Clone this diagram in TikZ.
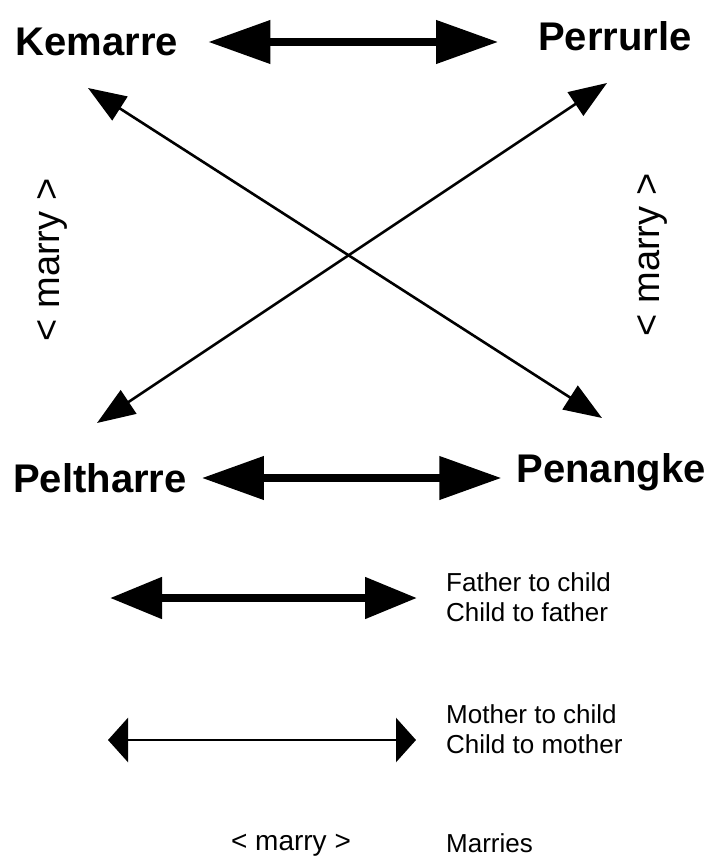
\documentclass[tikz,border=0pt]{standalone}
\usepackage{fontspec}
\setmainfont{Liberation Sans}
\usetikzlibrary{arrows.meta}
\begin{document}
\begin{tikzpicture}[x=1pt,y=-1pt,
  namebox/.style={font=\fontsize{40}{44}\selectfont\bfseries, inner sep=0pt},
  marrybox/.style={font=\fontsize{38}{40}\selectfont, inner sep=0pt, rotate=90},
  legtext/.style={font=\fontsize{26}{30}\selectfont, inner sep=0pt, anchor=west, align=left},
  bigarrow/.style={line width=7.5pt, {Triangle[length=62pt,width=42pt]}-{Triangle[length=62pt,width=42pt]}},
  legbig/.style={line width=8pt, {Triangle[length=52pt,width=40pt]}-{Triangle[length=52pt,width=40pt]}},
  legthin/.style={line width=2.8pt, {Triangle[length=20pt,width=44pt]}-{Triangle[length=20pt,width=44pt]}},
  diag/.style={line width=2.6pt, {Triangle[length=38pt,width=28pt]}-{Triangle[length=38pt,width=28pt]}}]
\useasboundingbox (0,0) rectangle (711,866);
\fill[white] (0,0) rectangle (711,866);

\node[namebox] (K) at (97,42) {Kemarre};
\node[namebox] (P) at (615,36) {Perrurle};
\node[namebox] (L) at (100,478) {Peltharre};
\node[namebox] (N) at (611,472) {Penangke};

\node[marrybox] (ML) at (52,260) {< marry >};
\node[marrybox] (MR) at (652,255) {< marry >};

% horizontal thick arrows
\draw[bigarrow] ([xshift=30pt]K.east |- 0,42) -- ([xshift=-40pt]P.west |- 0,42);
\draw[bigarrow] ([xshift=15pt]L.east) -- ([xshift=-15pt]N.west |- L.east);

% diagonals
\draw[diag] ([xshift=-9pt,yshift=-46pt]K.center) -- ([xshift=-9pt,yshift=54pt]N.center);
\draw[diag] ([xshift=-8pt,yshift=-47pt]P.center) -- ([xshift=-3pt,yshift=55pt]L.center);

% legend
\coordinate (A1) at (110,598);
\coordinate (A2) at (417,598);
\draw[legbig] (A1) -- (A2);
\node[legtext] (T1) at (446,597) {Father to child\\Child to father};

\coordinate (B1) at (108,740);
\coordinate (B2) at (416,740);
\draw[legthin] (B1) -- (B2);
\node[legtext] (T2) at (446,729) {Mother to child\\Child to mother};

\node[font=\fontsize{28}{30}\selectfont, inner sep=0pt] (M3) at (291,845) {< marry >};
\node[legtext] (T3) at (446,843) {Marries};
\end{tikzpicture}
\end{document}
